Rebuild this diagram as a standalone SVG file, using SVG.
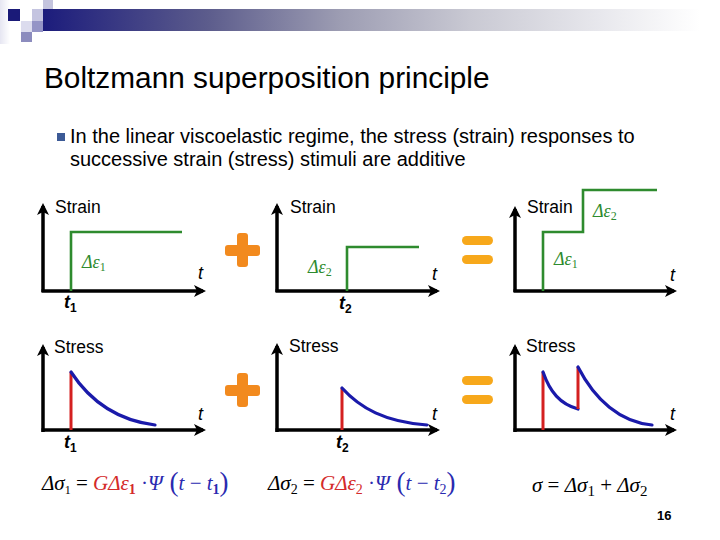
<svg xmlns="http://www.w3.org/2000/svg" width="720" height="540" viewBox="0 0 720 540">
<defs>
<linearGradient id="barGrad" x1="43" y1="0" x2="700" y2="0" gradientUnits="userSpaceOnUse">
<stop offset="0" stop-color="#1c1c7c"/>
<stop offset="0.25" stop-color="#5c5c8c"/>
<stop offset="0.45" stop-color="#9c9cb2"/>
<stop offset="0.65" stop-color="#c9c9d3"/>
<stop offset="0.85" stop-color="#e8e8ed"/>
<stop offset="1" stop-color="#ffffff"/>
</linearGradient>
<linearGradient id="leftGrad" x1="0" y1="0" x2="1" y2="0">
<stop offset="0" stop-color="#e6e6f2"/>
<stop offset="1" stop-color="#ffffff"/>
</linearGradient>
<marker id="arr" viewBox="0 0 12 12" refX="9" refY="6" markerWidth="12" markerHeight="12" markerUnits="userSpaceOnUse" orient="auto">
<path d="M0,0 L12,6 L0,12 L3,6 z" fill="#000"/>
</marker>
<style>
.axis{fill:none;stroke:#000;stroke-width:3.5;marker-end:url(#arr)}
.strain{fill:none;stroke:#2e8b2e;stroke-width:2.6}
.jump{fill:none;stroke:#d42020;stroke-width:3}
.decay{fill:none;stroke:#1a1aaa;stroke-width:3.2;stroke-linecap:round}
.lab{font-family:"Liberation Sans",Arial,sans-serif;font-size:17.5px;fill:#000}
.tl{font-family:"Liberation Sans",Arial,sans-serif;font-size:18px;font-style:italic;fill:#000}
.tb{font-family:"Liberation Sans",Arial,sans-serif;font-size:18px;font-style:italic;font-weight:bold;fill:#000}
.de{font-family:"Liberation Serif","Times New Roman",serif;font-size:18px;font-style:italic;fill:#2e8b2e}
.sub{font-style:normal;font-size:12px}
.plus{fill:#f28a1e}
.eq{fill:#f7a81b}
.f{font-family:"Liberation Serif","Times New Roman",serif;font-size:21px;font-style:italic;fill:#000}
.red{fill:#d42a2a}
.blue{fill:#2a2ab0}
</style>
</defs>
<rect width="720" height="540" fill="#fff"/>

<g id="header">
<rect x="0" y="0" width="10" height="44" fill="url(#leftGrad)"/>
<rect x="43" y="9" width="677" height="22" fill="url(#barGrad)"/>
<rect x="43" y="0" width="10" height="9" fill="#c4c4de"/>
<rect x="8" y="9" width="12" height="12" fill="#1a1a78"/>
<rect x="32" y="9" width="11" height="12" fill="#c4c4e0"/>
<rect x="21" y="21" width="11" height="11" fill="#dcdcee"/>
<rect x="32" y="21" width="11" height="11" fill="#9494c6"/>
<rect x="21" y="32" width="11" height="10" fill="#8c8cbe"/>
</g>

<g id="title">
<text x="44" y="88" font-family="'Liberation Sans',Arial,sans-serif" font-size="29.8" fill="#000">Boltzmann superposition principle</text>
</g>

<g id="bullet">
<rect x="57" y="133" width="8" height="8" fill="#3c5a96"/>
<text font-family="'Liberation Sans',Arial,sans-serif" font-size="20" fill="#000"><tspan x="70" y="143">In the linear viscoelastic regime, the stress (strain) responses to</tspan><tspan x="70" y="166">successive strain (stress) stimuli are additive</tspan></text>
</g>

<g id="strain1">
<path class="axis" d="M43,292 L43,206"/>
<path class="axis" d="M41.5,291 L203,291"/>
<path class="strain" d="M71,291 L71,232 L182,232"/>
<text class="lab" x="55" y="213">Strain</text>
<text class="de" x="82" y="268">Δε<tspan class="sub" dy="3">1</tspan></text>
<text class="tl" x="198" y="279">t</text>
<text class="tb" x="64" y="308">t<tspan class="sub" dy="4">1</tspan></text>
</g>

<g id="plus1">
<rect x="225" y="245" width="35" height="11" rx="3" class="plus"/>
<rect x="237" y="233" width="11" height="34" rx="3" class="plus"/>
</g>

<g id="strain2">
<path class="axis" d="M277,292 L277,206"/>
<path class="axis" d="M275.5,291 L437,291"/>
<path class="strain" d="M347,291 L347,247 L419,247"/>
<text class="lab" x="290" y="213">Strain</text>
<text class="de" x="308" y="273">Δε<tspan class="sub" dy="3">2</tspan></text>
<text class="tl" x="432" y="280">t</text>
<text class="tb" x="339" y="309">t<tspan class="sub" dy="4">2</tspan></text>
</g>

<g id="equals1">
<rect x="462" y="236" width="31" height="9" rx="4.5" class="eq"/>
<rect x="462" y="255" width="31" height="9" rx="4.5" class="eq"/>
</g>

<g id="strain3">
<path class="axis" d="M515,292 L515,209"/>
<path class="axis" d="M513.5,291 L674,291"/>
<path class="strain" d="M543,291 L543,232 L583,232 L583,190 L657,190"/>
<text class="lab" x="527" y="213">Strain</text>
<text class="de" x="593" y="217">Δε<tspan class="sub" dy="3">2</tspan></text>
<text class="de" x="554" y="265">Δε<tspan class="sub" dy="3">1</tspan></text>
<text class="tl" x="670" y="281">t</text>
</g>

<g id="stress1">
<path class="axis" d="M43,432 L43,347"/>
<path class="axis" d="M41.5,430 L203,430"/>
<path class="jump" d="M71,430 L71,372"/>
<path class="decay" d="M71,372 C88,398 115,420 155,425"/>
<text class="lab" x="54" y="353">Stress</text>
<text class="tl" x="198" y="420">t</text>
<text class="tb" x="64" y="448">t<tspan class="sub" dy="4">1</tspan></text>
</g>

<g id="plus2">
<rect x="225" y="385" width="35" height="11" rx="3" class="plus"/>
<rect x="237" y="373" width="11" height="34" rx="3" class="plus"/>
</g>

<g id="stress2">
<path class="axis" d="M277,432 L277,346"/>
<path class="axis" d="M275.5,430 L437,430"/>
<path class="jump" d="M342,430 L342,388"/>
<path class="decay" d="M342,388 C360,408 385,422 427,425"/>
<text class="lab" x="289" y="352">Stress</text>
<text class="tl" x="432" y="420">t</text>
<text class="tb" x="336" y="448">t<tspan class="sub" dy="4">2</tspan></text>
</g>

<g id="equals2">
<rect x="462" y="376" width="31" height="9" rx="4.5" class="eq"/>
<rect x="462" y="395" width="31" height="9" rx="4.5" class="eq"/>
</g>

<g id="stress3">
<path class="axis" d="M515,432 L515,347"/>
<path class="axis" d="M513.5,430 L674,430"/>
<path class="jump" d="M543,430 L543,372"/>
<path class="decay" d="M543,372 C550,392 560,404 578,409"/>
<path class="jump" d="M578,409 L578,367"/>
<path class="decay" d="M578,367 C595,400 620,422 652,425"/>
<text class="lab" x="526" y="352">Stress</text>
<text class="tl" x="670" y="420">t</text>
</g>

<g id="formula1">
<text class="f" y="490"><tspan x="42">Δσ</tspan><tspan class="sub" font-size="14" y="494">1</tspan><tspan font-style="normal" y="490"> = </tspan><tspan class="red">GΔε</tspan><tspan class="red" font-style="normal" font-weight="bold" font-size="14" y="494">1</tspan><tspan class="blue" font-style="normal" y="490"> ·</tspan><tspan class="blue">Ψ</tspan><tspan class="blue" font-style="normal" font-size="27" y="491"> (</tspan><tspan class="blue" y="490">t</tspan><tspan class="blue" font-style="normal"> − </tspan><tspan class="blue">t</tspan><tspan class="blue" font-style="normal" font-weight="bold" font-size="14" y="494">1</tspan><tspan class="blue" font-style="normal" font-size="27" y="491">)</tspan></text>
</g>

<g id="formula2">
<text class="f" y="490"><tspan x="268">Δσ</tspan><tspan font-style="normal" font-size="14" y="494">2</tspan><tspan font-style="normal" y="490"> = </tspan><tspan class="red">GΔε</tspan><tspan class="red" font-style="normal" font-size="14" y="494">2</tspan><tspan class="blue" font-style="normal" y="490"> ·</tspan><tspan class="blue">Ψ</tspan><tspan class="blue" font-style="normal" font-size="27" y="491"> (</tspan><tspan class="blue" y="490">t</tspan><tspan class="blue" font-style="normal"> − </tspan><tspan class="blue">t</tspan><tspan class="blue" font-style="normal" font-size="14" y="494">2</tspan><tspan class="blue" font-style="normal" font-size="27" y="491">)</tspan></text>
</g>

<g id="formula3">
<text class="f" y="492" font-size="22.5"><tspan x="532">σ</tspan><tspan font-style="normal"> = </tspan><tspan>Δσ</tspan><tspan font-style="normal" font-size="15" y="496">1</tspan><tspan font-style="normal" y="492"> + </tspan><tspan>Δσ</tspan><tspan font-style="normal" font-size="15" y="496">2</tspan></text>
</g>

<g id="pagenum">
<text x="657" y="520" font-family="'Liberation Sans',Arial,sans-serif" font-size="13" font-weight="bold" fill="#000">16</text>
</g>
</svg>
